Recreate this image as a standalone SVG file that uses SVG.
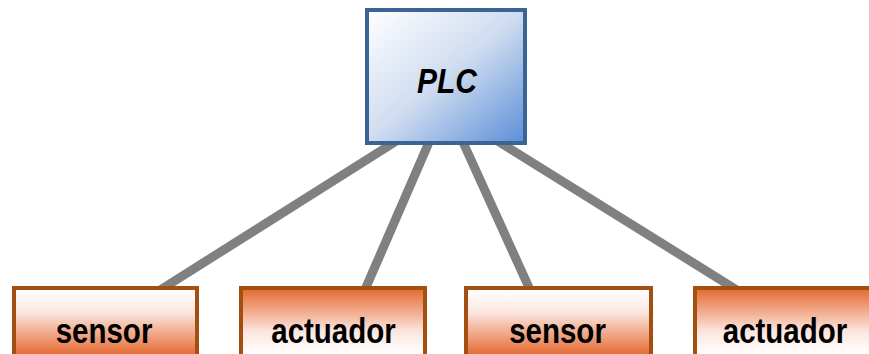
<svg xmlns="http://www.w3.org/2000/svg" width="869" height="354" viewBox="0 0 869 354">
  <style>
    .link { stroke: #808080; stroke-width: 9; fill: none; }
    .plc-box { fill: url(#plcFill); stroke: #3b6393; stroke-width: 4; }
    .dev-box { stroke: #a24f0f; stroke-width: 4; }
    .sensor { fill: url(#sensorFill); }
    .actuator { fill: url(#actuatorFill); }
    .label { font-family: "Liberation Sans", Arial, sans-serif; font-weight: bold; fill: #000; text-anchor: middle; }
    .dev-label { font-size: 29.5px; }
    .plc-label { font-size: 30px; font-style: italic; }
  </style>
  <defs>
    <linearGradient id="plcFill" x1="0" y1="0" x2="1" y2="1">
      <stop offset="0" stop-color="#ffffff"/>
      <stop offset="0.5" stop-color="#cfdcf0"/>
      <stop offset="1" stop-color="#5a8fd7"/>
    </linearGradient>
    <linearGradient id="sensorFill" gradientUnits="userSpaceOnUse" x1="0" y1="290" x2="0" y2="354">
      <stop offset="0" stop-color="#ffffff"/>
      <stop offset="0.35" stop-color="#fbe6df"/>
      <stop offset="1" stop-color="#e66d36"/>
    </linearGradient>
    <linearGradient id="actuatorFill" gradientUnits="userSpaceOnUse" x1="0" y1="290" x2="0" y2="354">
      <stop offset="0" stop-color="#e66d36"/>
      <stop offset="0.65" stop-color="#fbe6df"/>
      <stop offset="1" stop-color="#ffffff"/>
    </linearGradient>
  </defs>

  <!-- connections from the PLC to the field devices -->
  <g id="connectors">
    <line class="link" x1="398" y1="140" x2="157" y2="292"/>
    <line class="link" x1="430" y1="140" x2="364" y2="292"/>
    <line class="link" x1="462" y1="140" x2="531" y2="292"/>
    <line class="link" x1="496" y1="140" x2="740" y2="292"/>
  </g>

  <g id="plc">
    <rect class="plc-box" x="367" y="10" width="158" height="133"/>
    <text class="label plc-label" transform="translate(447,93) scale(1,1.18)">PLC</text>
  </g>

  <g id="sensor-1">
    <rect class="dev-box sensor" x="14" y="288" width="183" height="80"/>
    <text class="label dev-label" transform="translate(104,343) scale(1,1.22)">sensor</text>
  </g>

  <g id="actuador-1">
    <rect class="dev-box actuator" x="241" y="288" width="184" height="80"/>
    <text class="label dev-label" transform="translate(333.5,343) scale(1,1.22)">actuador</text>
  </g>

  <g id="sensor-2">
    <rect class="dev-box sensor" x="466" y="288" width="185" height="80"/>
    <text class="label dev-label" transform="translate(557.5,343) scale(1,1.22)">sensor</text>
  </g>

  <g id="actuador-2">
    <rect class="dev-box actuator" x="695" y="288" width="184" height="80"/>
    <text class="label dev-label" transform="translate(785,343) scale(1,1.22)">actuador</text>
  </g>
</svg>
